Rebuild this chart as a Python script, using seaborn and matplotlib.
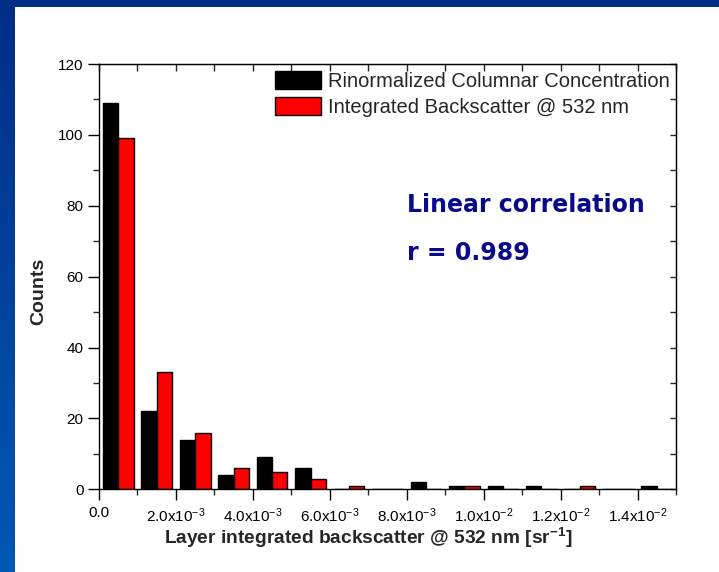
import numpy as np
import pandas as pd
import matplotlib
matplotlib.use("Agg")
import matplotlib.pyplot as plt
from matplotlib.patches import Rectangle
from matplotlib.colors import LinearSegmentedColormap
from matplotlib.ticker import MultipleLocator, FixedLocator, FixedFormatter
import seaborn as sns

# ---- data ----
bin_left = [0.000, 0.001, 0.002, 0.003, 0.004, 0.005, 0.006, 0.007,
            0.008, 0.009, 0.010, 0.011, 0.012, 0.013, 0.014]
bin_width = 0.001
columnar = [109, 22, 14, 4, 9, 6, 0, 0, 2, 1, 1, 1, 0, 0, 1]
backscatter = [99, 33, 16, 6, 5, 3, 1, 0, 0, 1, 0, 0, 1, 0, 0]
series_names = ["Rinormalized Columnar Concentration",
                "Integrated Backscatter @ 532 nm"]
xtick_values = [0.0, 0.002, 0.004, 0.006, 0.008, 0.010, 0.012, 0.014]
xtick_labels = ["0.0", r"2.0x10$^{\mathregular{-3}}$", r"4.0x10$^{\mathregular{-3}}$",
                r"6.0x10$^{\mathregular{-3}}$", r"8.0x10$^{\mathregular{-3}}$",
                r"1.0x10$^{\mathregular{-2}}$", r"1.2x10$^{\mathregular{-2}}$",
                r"1.4x10$^{\mathregular{-2}}$"]
ytick_values = [0, 20, 40, 60, 80, 100, 120]

centers = [b + bin_width / 2 for b in bin_left]
df = pd.DataFrame({
    "x": centers * 2,
    "count": columnar + backscatter,
    "series": [series_names[0]] * len(centers) + [series_names[1]] * len(centers),
})

sns.set_style("ticks")
plt.rcParams["font.family"] = ["Liberation Sans", "DejaVu Sans"]
plt.rcParams["mathtext.fontset"] = "custom"
plt.rcParams["mathtext.rm"] = "Liberation Sans"
plt.rcParams["mathtext.it"] = "Liberation Sans:italic"
plt.rcParams["mathtext.bf"] = "Liberation Sans:bold"
plt.rcParams["axes.unicode_minus"] = False

W, H = 719, 572
fig = plt.figure(figsize=(W / 100, H / 100), dpi=100)
fig.patch.set_facecolor("white")

# background frame: left gradient band and top band
band = fig.add_axes([0, 0, 15 / W, 1])
grad = np.linspace(0, 1, 256).reshape(-1, 1)
cmap = LinearSegmentedColormap.from_list("band", ["#002D86", "#0058B5"])
band.imshow(grad, aspect="auto", cmap=cmap, extent=[0, 1, 0, 1], origin="upper")
band.set_axis_off()
fig.patches.append(Rectangle((0, 1 - 7 / H), 1, 7 / H, transform=fig.transFigure,
                             facecolor="#002D86", edgecolor="none", zorder=5))

ax = fig.add_axes([99 / W, 1 - 489.3 / H, 577 / W, (489.3 - 64) / H])
sns.barplot(data=df, x="x", y="count", hue="series", native_scale=True,
            palette=["#000000", "#FF0000"], saturation=1, edgecolor="black",
            linewidth=1.0, width=0.8, ax=ax, legend=True)

ax.set_xlim(0, 0.015)
ax.set_ylim(0, 120)
ax.xaxis.set_major_locator(FixedLocator(xtick_values))
ax.xaxis.set_major_formatter(FixedFormatter(xtick_labels))
ax.xaxis.set_minor_locator(MultipleLocator(0.001))
ax.yaxis.set_major_locator(FixedLocator(ytick_values))
ax.yaxis.set_minor_locator(MultipleLocator(10))

for s in ax.spines.values():
    s.set_visible(True)
    s.set_linewidth(1.0)
    s.set_color("black")

ax.tick_params(which="major", direction="out", length=8, width=1.0,
               labelsize=11, colors="black", pad=3)
ax.tick_params(which="minor", direction="out", length=4, width=1.0)
ax.tick_params(axis="x", which="major", pad=4)

# mirrored inward ticks on top and right
top = ax.secondary_xaxis("top")
top.xaxis.set_major_locator(MultipleLocator(0.001))
top.tick_params(direction="in", length=5, width=1.0, labeltop=False)
right = ax.secondary_yaxis("right")
right.yaxis.set_major_locator(MultipleLocator(10))
right.tick_params(direction="in", length=4, width=1.0, labelright=False)

ax.set_xlabel(r"Layer integrated backscatter @ 532 nm [sr$^{\mathregular{-1}}$]",
              fontsize=13.8, fontweight="bold")
ax.set_ylabel("Counts", fontsize=14, fontweight="bold")
ax.xaxis.set_label_coords(0.466, -0.086)
ax.yaxis.set_label_coords(-0.09, 0.466)

handles, labels = ax.get_legend_handles_labels()
ax.legend(handles, labels, loc="upper left", bbox_to_anchor=(0.305, 0.983),
          frameon=False, fontsize=14.5, handlelength=2.3, handleheight=0.95,
          handletextpad=0.35, labelspacing=0.33, borderpad=0, borderaxespad=0)

ax.text(0.534, 0.651, "Linear correlation", transform=ax.transAxes,
        fontsize=17, fontweight="bold", color="#0A0A8C",
        family=["DejaVu Sans"], va="baseline", ha="left")
ax.text(0.534, 0.538, "r = 0.989", transform=ax.transAxes,
        fontsize=17, fontweight="bold", color="#0A0A8C",
        family=["DejaVu Sans"], va="baseline", ha="left")

fig.savefig("out.png", dpi=100, facecolor=fig.get_facecolor())
